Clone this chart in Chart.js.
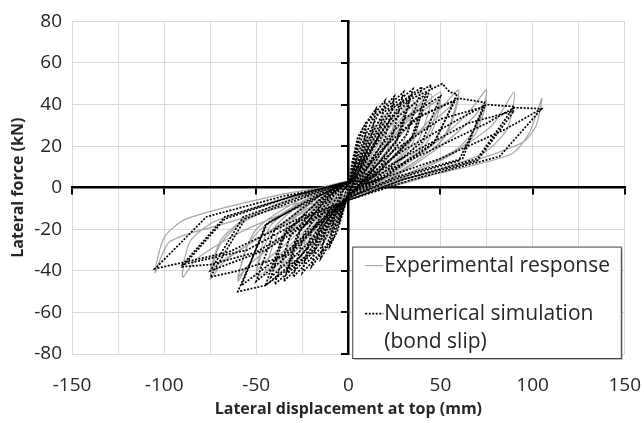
<!DOCTYPE html>
<html>
<head>
    <title>Lateral force vs displacement</title>
    <script src="https://cdn.jsdelivr.net/npm/chart.js"></script>
    <style>
        html, body { margin: 0; padding: 0; background: #fff; }
    </style>
</head>
<body>
    <canvas id="hystChart" width="644" height="423"></canvas>

    <script>
        // displacement (mm), force (kN) pairs
        const expSmall = [
            [0,0],[2,8],[5,15],[3,6],[0,-1],[-2,-7],[-5,-14],[-3,-5],[0,1],
            [2,7],[5,14],[10,24],[8,12],[3,2],[0,-2],[-3,-9],[-6,-16],[-10,-22],[-8,-10],[-3,-1],[0,2],
            [3,8],[8,20],[15,30],[12,15],[5,3],[0,-2],[-4,-9],[-9,-20],[-15,-28],[-12,-13],[-5,-2],[0,2],
            [4,8],[11,23],[20,35],[16,17],[6,3],[0,-2],[-5,-10],[-12,-22],[-20,-32],[-16,-15],[-6,-2],[0,2]
        ];
        const expMid = [
            [5,8],[14,24],[25,38],[21,18],[8,3],[0,-3],[-6,-10],[-15,-23],[-25,-34],[-20,-16],[-8,-2],[0,3],
            [6,8],[17,25],[30,40],[25,19],[10,3],[0,-3],[-7,-10],[-18,-24],[-30,-36],[-25,-17],[-10,-2],[0,3],
            [7,8],[20,26],[35,42],[29,20],[12,4],[0,-3],[-8,-11],[-21,-25],[-35,-38],[-29,-18],[-12,-3],[0,3],
            [8,8],[23,27],[40,44],[33,21],[14,4],[0,-3],[-9,-11],[-24,-26],[-40,-40],[-33,-19],[-14,-3],[0,3],
            [9,8],[26,28],[45,45],[37,21],[16,4],[0,-3],[-10,-11],[-27,-27],[-45,-42],[-37,-20],[-16,-3],[0,3],
            [10,8],[29,29],[50,46],[41,22],[18,4],[0,-3],[-11,-11],[-30,-28],[-50,-43],[-41,-20],[-18,-3],[0,3]
        ];
        const expRepeat = [
            [8,6],[22,22],[35,36],[40,40],[34,20],[12,3],[0,-3],[-10,-9],[-25,-22],[-38,-33],[-40,-36],[-32,-16],[-12,-2],[0,2],
            [9,6],[27,24],[42,38],[50,42],[42,21],[16,3],[0,-3],[-12,-9],[-30,-24],[-46,-36],[-50,-40],[-42,-18],[-15,-2],[0,2],
            [14,6],[38,26],[54,38],[60,44],[52,24],[20,3],[0,-3],[-16,-9],[-38,-25],[-55,-38],[-60,-43],[-50,-20],[-18,-2],[0,2]
        ];
        const expLarge = [
            [12,6],[35,24],[52,40],[60,47],[55,30],[48,20],[20,4],[0,-3],[-15,-10],[-40,-27],[-55,-38],[-60,-45],[-55,-28],[-45,-18],[-20,-4],[0,3],
            [18,4],[45,20],[65,36],[75,47],[70,30],[58,18],[25,4],[0,-4],[-20,-10],[-50,-25],[-68,-36],[-75,-44],[-70,-28],[-58,-17],[-25,-4],[0,3],
            [20,3],[50,20],[68,34],[75,42],[69,26],[56,16],[24,3],[0,-4],[-22,-10],[-52,-26],[-70,-36],[-75,-40],[-69,-25],[-56,-15],[-24,-3],[0,3],
            [22,2],[55,16],[78,30],[90,46],[86,28],[72,16],[30,4],[0,-4],[-25,-9],[-60,-22],[-82,-34],[-90,-43],[-86,-26],[-72,-16],[-30,-4],[0,3],
            [24,1],[65,12],[95,22],[102,30],[105,43],[98,26],[88,16],[40,5],[0,-4],[-30,-8],[-70,-18],[-97,-26],[-105,-41],[-100,-24],[-88,-15],[-35,-3],[0,2]
        ];

        const numSmall = [
            [0,0],[2,10],[5,22],[4,12],[1,2],[-2,-8],[-5,-18],[-4,-9],[-1,-1],
            [0,0],[2,12],[5,24],[10,32],[8,18],[3,4],[0,-3],[-3,-12],[-6,-21],[-10,-28],[-8,-15],[-3,-2],[0,2],
            [1,5],[4,18],[8,29],[15,38],[12,22],[4,5],[0,-3],[-3,-11],[-8,-24],[-15,-34],[-12,-18],[-4,-3],[0,2],
            [1,4],[5,18],[10,31],[20,42],[16,24],[6,6],[0,-3],[-4,-12],[-10,-26],[-20,-38],[-16,-20],[-6,-4],[0,2],
            [1,3],[6,18],[13,33],[25,44],[20,24],[8,6],[0,-3],[-5,-13],[-12,-28],[-25,-41],[-20,-21],[-8,-4],[0,3]
        ];
        const numMid = [
            [2,4],[8,20],[16,35],[30,46],[24,25],[10,6],[0,-4],[-6,-13],[-15,-29],[-30,-43],[-24,-22],[-10,-5],[0,3],
            [2,4],[9,20],[19,36],[35,47.5],[28,25],[11,6],[0,-4],[-7,-13],[-18,-30],[-35,-45],[-28,-23],[-12,-5],[0,3],
            [2,4],[10,20],[22,37],[40,48.5],[32,26],[13,6],[0,-4],[-8,-14],[-20,-31],[-40,-46.5],[-32,-24],[-13,-5],[0,3],
            [2,4],[12,21],[25,39],[45,49.5],[36,26],[15,6],[0,-4],[-9,-14],[-23,-33],[-45,-47],[-36,-24],[-15,-5],[0,3],
            [3,4],[14,21],[28,40],[51,50],[55,46],[59,45],[47,22],[18,5],[0,-4],[-10,-14],[-26,-33],[-45,-47],[-60,-50],[-44,-17],[-18,-5],[0,3]
        ];
        const numRepeat = [
            [3,3],[10,16],[20,30],[33,42],[26,22],[10,5],[0,-4],[-8,-11],[-18,-25],[-33,-40],[-26,-20],[-10,-4],[0,3],
            [3,3],[12,17],[24,32],[42,45],[34,23],[13,5],[0,-4],[-10,-12],[-22,-27],[-42,-43],[-34,-21],[-13,-4],[0,3],
            [4,3],[15,17],[30,33],[50,44],[40,22],[16,5],[0,-4],[-12,-13],[-28,-29],[-50,-45],[-40,-20],[-16,-4],[0,3],
            [4,3],[18,18],[36,33],[58,42],[46,21],[18,4],[0,-5],[-14,-15],[-34,-31],[-58,-47],[-45,-18],[-18,-4],[0,3]
        ];
        const numLarge = [
            [4,3],[20,20],[40,35],[60,43],[74,41],[62,14],[25,5],[0,-5],[-15,-17],[-35,-33],[-60,-40],[-75,-43],[-56,-15],[-25,-5],[0,3],
            [5,3],[25,18],[50,33],[74,39],[60,13],[25,4],[0,-5],[-18,-15],[-45,-30],[-75,-40],[-57,-14],[-25,-4],[0,3],
            [6,3],[30,18],[60,33],[75,40],[90,39],[70,14],[30,4],[0,-6],[-20,-15],[-50,-31],[-75,-37],[-90,-38],[-67,-15],[-30,-4],[0,3],
            [7,3],[35,17],[65,31],[90,37],[70,13],[30,4],[0,-6],[-22,-14],[-55,-30],[-90,-37],[-67,-14],[-30,-4],[0,3],
            [8,3],[40,16],[75,31],[90,38.5],[105,38],[82,15],[35,4],[0,-6],[-25,-14],[-65,-31],[-90,-36],[-105,-39],[-77,-14],[-35,-4],[0,2],
            [10,2],[50,14],[85,28],[105,38]
        ];

        const xTicks = { min: -150, max: 150, grid: 25, label: 50 };
        const yTicks = { min: -80, max: 80, step: 20 };

        const toPoints = arr => arr.map(([x, y]) => ({ x, y }));
        const textColor = '#262626';
        const gridColor = '#d9d9d9';

        // legend box drawn inside the plot, lower right
        const boxLegend = {
            id: 'boxLegend',
            afterDraw(chart) {
                const { ctx, chartArea: a } = chart;
                const w = a.right - a.left, h = a.bottom - a.top;
                const left = a.left + 0.507 * w, right = a.left + 0.993 * w;
                const top = a.top + 0.677 * h, bottom = a.bottom + 4;
                ctx.save();
                ctx.fillStyle = 'rgba(0,0,0,0.25)';
                ctx.fillRect(left + 2, top + 2, right - left, bottom - top);
                ctx.fillStyle = '#fff';
                ctx.fillRect(left, top, right - left, bottom - top);
                ctx.strokeStyle = '#404040';
                ctx.lineWidth = 1;
                ctx.strokeRect(left + 0.5, top + 0.5, right - left, bottom - top);

                const ds = chart.data.datasets;
                const sx = left + 13, ex = left + 31, tx = left + 32;
                const rows = [top + 19, top + 67];
                ctx.font = '21px "Open Sans"';
                ctx.fillStyle = textColor;
                ctx.textBaseline = 'middle';
                ds.forEach((d, i) => {
                    ctx.beginPath();
                    ctx.strokeStyle = d.borderColor;
                    ctx.lineWidth = d.borderWidth;
                    ctx.setLineDash(d.borderDash || []);
                    ctx.moveTo(sx, rows[i]);
                    ctx.lineTo(ex, rows[i]);
                    ctx.stroke();
                    ctx.setLineDash([]);
                    const lines = Array.isArray(d.label) ? d.label : [d.label];
                    lines.forEach((t, j) => ctx.fillText(t, tx, rows[i] + j * 28));
                });
                ctx.restore();
            }
        };

        const ctx = document.getElementById('hystChart').getContext('2d');
        new Chart(ctx, {
            type: 'scatter',
            data: {
                datasets: [
                    {
                        label: 'Experimental response',
                        data: toPoints([...expSmall, ...expMid, ...expRepeat, ...expLarge]),
                        showLine: true,
                        borderColor: 'rgba(150,150,150,0.85)',
                        borderWidth: 1.2,
                        tension: 0.25,
                        pointRadius: 0,
                        order: 2
                    },
                    {
                        label: ['Numerical simulation', '(bond slip)'],
                        data: toPoints([...numSmall, ...numMid, ...numRepeat, ...numLarge]),
                        showLine: true,
                        borderColor: '#000',
                        borderWidth: 1.7,
                        borderDash: [2, 1.5],
                        tension: 0,
                        pointRadius: 0,
                        order: 1
                    }
                ]
            },
            options: {
                responsive: false,
                animation: false,
                layout: { padding: { top: 4, right: 0, bottom: 4, left: 9 } },
                plugins: { legend: { display: false }, tooltip: { enabled: false } },
                scales: {
                    x: {
                        type: 'linear',
                        position: 'bottom',
                        min: xTicks.min,
                        max: xTicks.max,
                        ticks: {
                            stepSize: xTicks.grid,
                            autoSkip: false,
                            maxRotation: 0,
                            padding: 3,
                            color: textColor,
                            font: { family: 'Open Sans', size: 19 },
                            callback: v => (v % xTicks.label === 0 ? v : '')
                        },
                        grid: { color: gridColor, drawTicks: true, tickLength: 17, tickColor: 'rgba(0,0,0,0)' },
                        border: { display: false },
                        title: {
                            display: true,
                            text: 'Lateral displacement at top (mm)',
                            color: textColor,
                            font: { family: 'Open Sans', size: 16, weight: 'bold' },
                            padding: { top: 0, bottom: 0 }
                        }
                    },
                    y: {
                        type: 'linear',
                        position: 'left',
                        min: yTicks.min,
                        max: yTicks.max,
                        ticks: {
                            stepSize: yTicks.step,
                            padding: 10,
                            color: textColor,
                            font: { family: 'Open Sans', size: 19 }
                        },
                        grid: { color: gridColor, drawTicks: false },
                        border: { display: false },
                        title: {
                            display: true,
                            text: 'Lateral force (kN)',
                            color: textColor,
                            font: { family: 'Open Sans', size: 16, weight: 'bold' },
                            padding: { top: 0, bottom: -4 }
                        }
                    },
                    x0: {
                        type: 'linear',
                        axis: 'x',
                        position: { y: 0 },
                        min: xTicks.min,
                        max: xTicks.max,
                        ticks: { display: false, stepSize: xTicks.label },
                        grid: { drawOnChartArea: false, color: '#000', lineWidth: 2, tickLength: 6 },
                        border: { color: '#000', width: 2.5 }
                    },
                    y0: {
                        type: 'linear',
                        axis: 'y',
                        position: { x: 0 },
                        min: yTicks.min,
                        max: yTicks.max,
                        ticks: { display: false, stepSize: yTicks.step },
                        grid: { drawOnChartArea: false, color: '#000', lineWidth: 2, tickLength: 6 },
                        border: { color: '#000', width: 2.5 }
                    }
                }
            },
            plugins: [boxLegend]
        });
    </script>
</body>
</html>
